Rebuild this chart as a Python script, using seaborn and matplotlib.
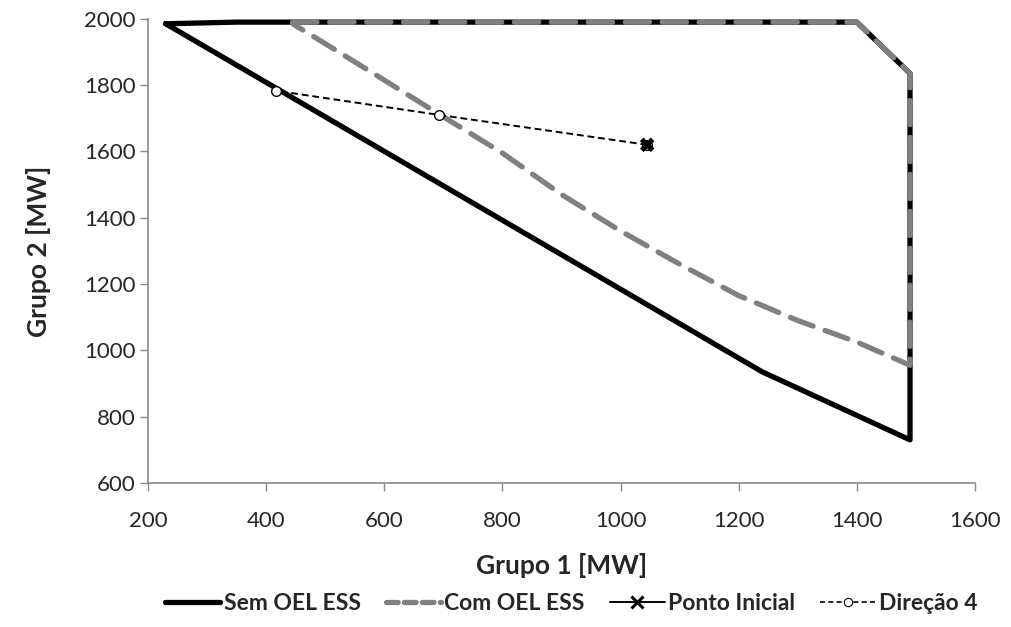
import matplotlib
matplotlib.use("Agg")
import matplotlib.pyplot as plt
import seaborn as sns
import pandas as pd
from matplotlib.lines import Line2D

# Data
sem_x = [230, 350, 1400, 1490, 1490, 1240, 230]
sem_y = [1985, 1990, 1990, 1835, 730, 935, 1985]

com_x = [445, 1400, 1490, 1490, 1400, 1300, 1200, 1100, 1000, 900, 800, 695, 600, 500, 445]
com_y = [1990, 1990, 1835, 955, 1025, 1090, 1165, 1260, 1360, 1470, 1595, 1710, 1815, 1925, 1985]

ini_x = [1045]
ini_y = [1620]

dir_x = [1045, 693, 417]
dir_y = [1620, 1710, 1783]

xticks = [200, 400, 600, 800, 1000, 1200, 1400, 1600]
yticks = [600, 800, 1000, 1200, 1400, 1600, 1800, 2000]

sns.set_style("white")
plt.rcParams['font.family'] = ['Lato', 'DejaVu Sans']

fig = plt.figure(figsize=(10.11, 6.27), dpi=100)
ax = fig.add_axes([0.1464, 0.2297, 0.8180, 0.7403])

sns.lineplot(x=sem_x, y=sem_y, sort=False, estimator=None, ax=ax,
             color='black', linewidth=3.8, solid_joinstyle='round', solid_capstyle='round')
sns.lineplot(x=com_x, y=com_y, sort=False, estimator=None, ax=ax,
             color='#808080', linewidth=3.8, dash_capstyle='round')
ax.lines[-1].set_dashes([4.6, 2.4])
sns.lineplot(x=dir_x, y=dir_y, sort=False, estimator=None, ax=ax,
             color='black', linewidth=1.4, linestyle=(0, (3.5, 2)),
             marker='o', markersize=7, markerfacecolor='white', markeredgecolor='black',
             markeredgewidth=1.0)
sns.scatterplot(x=ini_x, y=ini_y, ax=ax, marker='X', s=110, color='black',
                edgecolor='none', zorder=5)

ax.set_xlim(200, 1600)
ax.set_ylim(600, 2000)
ax.set_xticks(xticks)
ax.set_yticks(yticks)
ax.tick_params(axis='both', labelsize=16, length=6, width=1, color='#888888', direction='out')
ax.tick_params(axis='y', pad=3)
ax.tick_params(axis='x', pad=14)
ax.tick_params(axis='both', which='both', bottom=True, left=True)
for s in ['top', 'right']:
    ax.spines[s].set_visible(False)
for s in ['left', 'bottom']:
    ax.spines[s].set_color('#888888')
    ax.spines[s].set_linewidth(1.2)
ax.set_xlabel('Grupo 1 [MW]', fontsize=19, fontweight='bold', labelpad=16)
ax.set_ylabel('Grupo 2 [MW]', fontsize=19, fontweight='bold', labelpad=24)
for sp in ax.spines.values():
    sp.set_clip_on(False)

handles = [
    Line2D([], [], color='black', linewidth=3.8),
    Line2D([], [], color='#808080', linewidth=3.8, dashes=[2.2, 1.2], dash_capstyle='round'),
    Line2D([], [], color='black', linewidth=1.4, marker='x', markersize=8, markeredgewidth=2.2),
    Line2D([], [], color='black', linewidth=1.2, linestyle=(0, (3, 2)), marker='o', markersize=6,
           markerfacecolor='white', markeredgewidth=0.8),
]
labels = ['Sem OEL ESS', 'Com OEL ESS', 'Ponto Inicial', 'Direção 4']
leg = fig.legend(handles, labels, loc='center', bbox_to_anchor=(0.565, 0.038), ncol=4,
                 frameon=False, handlelength=2.4, handletextpad=0.15, columnspacing=1.1,
                 prop={'size': 16.5, 'weight': 'bold'})

fig.savefig('out.png', dpi=100)
